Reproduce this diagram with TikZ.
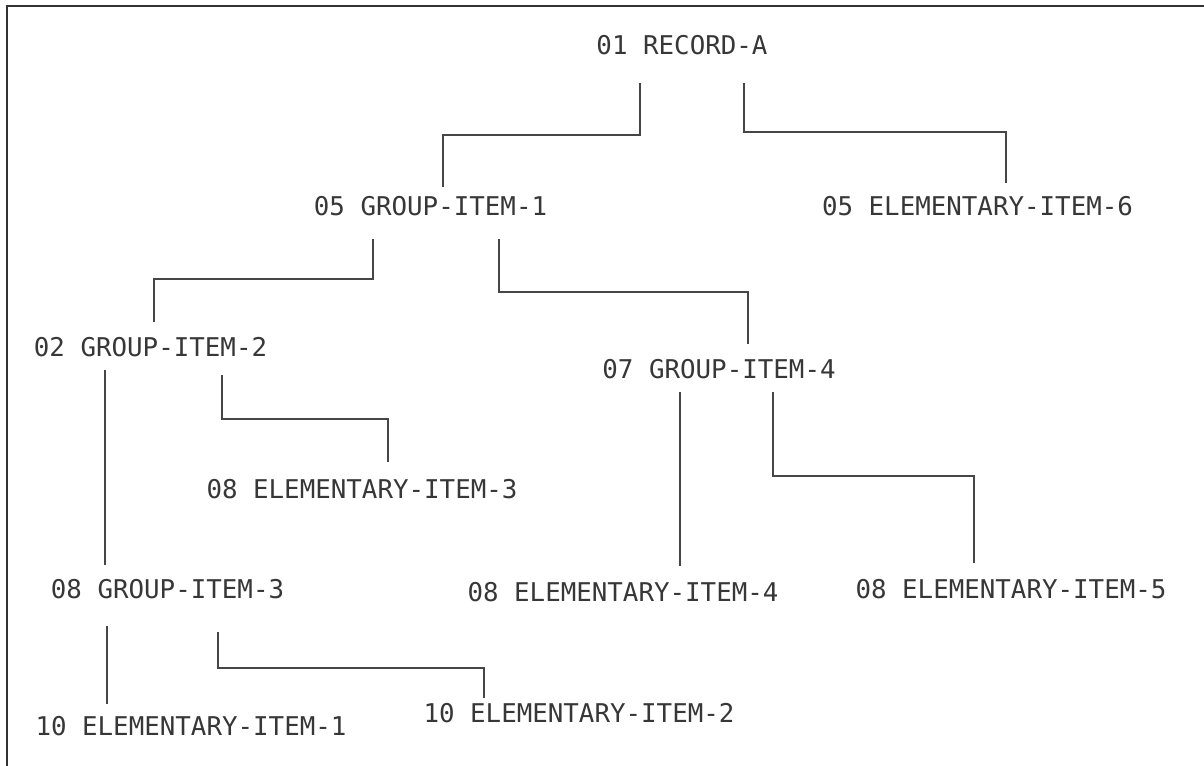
\documentclass[tikz,border=0pt]{standalone}
\usepackage{fontspec}
\setmonofont{DejaVu Sans Mono}
\usetikzlibrary{calc}
\definecolor{InkGray}{RGB}{55,55,55}
\definecolor{WireGray}{RGB}{70,70,70}

\begin{document}
\begin{tikzpicture}[
  x=0.02cm, y=-0.02cm,
  item/.style={
    anchor=base,
    inner sep=0pt,
    text=InkGray,
    font=\ttfamily\fontsize{14.7pt}{18pt}\selectfont
  },
  wire/.style={WireGray, line width=0.8pt},
  frame/.style={black!80, line width=1.1pt}
]
  \useasboundingbox (0,0) rectangle (1204,766);

  % open frame: left and top edges only
  \draw[frame] (7,766) -- (7,6) -- (1204,6);

  \node[item] (rec) at (682,55)    {01 RECORD-A};
  \node[item] (g1)  at (430.5,216) {05 GROUP-ITEM-1};
  \node[item] (e6)  at (977.5,216) {05 ELEMENTARY-ITEM-6};
  \node[item] (g2)  at (150.5,357) {02 GROUP-ITEM-2};
  \node[item] (g4)  at (719,379)   {07 GROUP-ITEM-4};
  \node[item] (e3)  at (362,499)   {08 ELEMENTARY-ITEM-3};
  \node[item] (g3)  at (167.5,599) {08 GROUP-ITEM-3};
  \node[item] (e4)  at (623,602)   {08 ELEMENTARY-ITEM-4};
  \node[item] (e5)  at (1011,599)  {08 ELEMENTARY-ITEM-5};
  \node[item] (e1)  at (191,735)   {10 ELEMENTARY-ITEM-1};
  \node[item] (e2)  at (579,723)   {10 ELEMENTARY-ITEM-2};

  % record level
  \draw[wire] ($(rec.base)+(-42,28)$) |- ($(g1.base)+(12.5,-81)$) -- ($(g1.base)+(12.5,-29)$);
  \draw[wire] ($(rec.base)+(62,28)$) |- ($(e6.base)+(28.5,-84)$) -- ($(e6.base)+(28.5,-33)$);

  % group-item-1
  \draw[wire] ($(g1.base)+(-57.5,23)$) |- ($(g2.base)+(3.5,-78)$) -- ($(g2.base)+(3.5,-35)$);
  \draw[wire] ($(g1.base)+(68.5,23)$) |- ($(g4.base)+(29,-87)$) -- ($(g4.base)+(29,-35)$);

  % group-item-2
  \draw[wire] ($(g2.base)+(71.5,18)$) |- ($(e3.base)+(26,-80)$) -- ($(e3.base)+(26,-37)$);
  \draw[wire] ($(g2.base)+(-45.5,13)$) -- ($(g3.base)+(-62.5,-34)$);

  % group-item-4
  \draw[wire] ($(g4.base)+(-39,13)$) -- ($(e4.base)+(57,-36)$);
  \draw[wire] ($(g4.base)+(54,13)$) |- ($(e5.base)+(-37,-123)$) -- ($(e5.base)+(-37,-36)$);

  % group-item-3
  \draw[wire] ($(g3.base)+(-60.5,27)$) -- ($(e1.base)+(-84,-31)$);
  \draw[wire] ($(g3.base)+(50.5,33)$) |- ($(e2.base)+(-95,-55)$) -- ($(e2.base)+(-95,-25)$);

\end{tikzpicture}
\end{document}
